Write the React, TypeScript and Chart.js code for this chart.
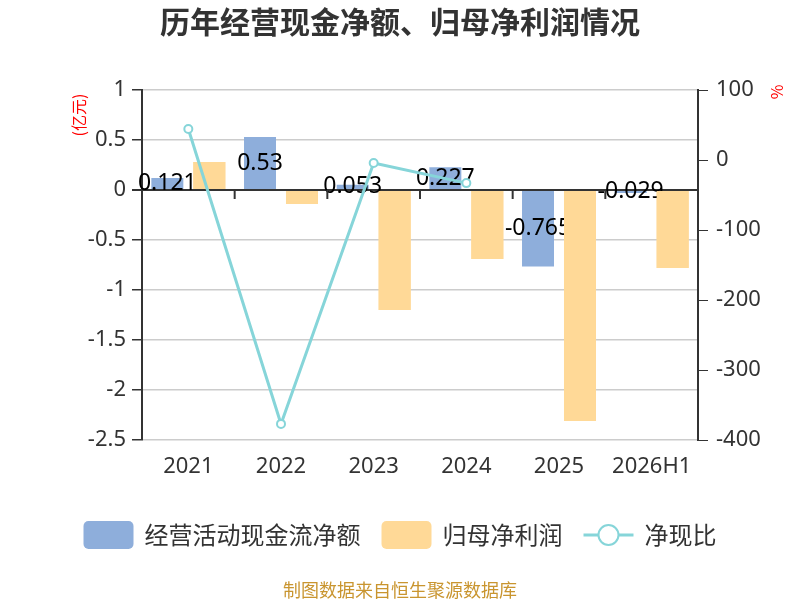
import React, { useEffect, useRef } from "react";
import { Chart, registerables } from "chart.js";

Chart.register(...registerables);

const categories = ["2021", "2022", "2023", "2024", "2025", "2026H1"];
const cashFlow = [0.121, 0.53, 0.053, 0.227, -0.765, -0.029];
const netProfit = [0.28, -0.14, -1.2, -0.69, -2.31, -0.78];
const cashRatio = [44.3, -377, -4.3, -33, null, null];
const leftTicks = { min: -2.5, max: 1, step: 0.5 };
const rightTicks = { min: -400, max: 100, step: 100 };

const CJK = '"Noto Sans CJK SC", sans-serif';
const NUM = '"Noto Sans", "Noto Sans CJK SC", sans-serif';
const BLUE = "#8eaedb";
const ORANGE = "#ffd997";
const TEAL = "#86d5d9";
const TEXT = "#333333";

const legendItems = [
  { label: "经营活动现金流净额", kind: "box", color: BLUE },
  { label: "归母净利润", kind: "box", color: ORANGE },
  { label: "净现比", kind: "line", color: TEAL },
];

const decorPlugin = {
  id: "decor",
  afterDatasetDraw(chart: any, args: any) {
    if (args.index !== 0) return;
    const ctx = chart.ctx;
    const meta = chart.getDatasetMeta(0);
    ctx.save();
    ctx.font = `23px ${NUM}`;
    ctx.fillStyle = "#000";
    ctx.textAlign = "center";
    ctx.textBaseline = "middle";
    meta.data.forEach((el: any, i: number) => {
      const y = (el.y + el.base) / 2;
      ctx.fillText(String(cashFlow[i]), el.x, y);
    });
    ctx.restore();
    // orange bars are drawn over the labels
    const meta1 = chart.getDatasetMeta(1);
    meta1.data.forEach((el: any) => el.draw(ctx));
  },
  afterDraw(chart: any) {
    const ctx = chart.ctx;
    const xs = chart.scales.x;
    const ys = chart.scales.y;
    ctx.save();
    const y0 = ys.getPixelForValue(0);
    ctx.strokeStyle = TEXT;
    ctx.lineWidth = 2;
    for (let i = 1; i < categories.length; i++) {
      const x = (xs.getPixelForValue(i - 1) + xs.getPixelForValue(i)) / 2;
      ctx.beginPath();
      ctx.moveTo(x, y0);
      ctx.lineTo(x, y0 + 9);
      ctx.stroke();
    }
    // title
    ctx.fillStyle = TEXT;
    ctx.font = `bold 30px ${CJK}`;
    ctx.textAlign = "center";
    ctx.textBaseline = "middle";
    ctx.fillText("历年经营现金净额、归母净利润情况", 400, 22);
    // axis titles
    ctx.fillStyle = "#ff0000";
    ctx.font = `16px ${CJK}`;
    ctx.save();
    ctx.translate(79, 115);
    ctx.rotate(-Math.PI / 2);
    ctx.fillText("(亿元)", 0, 0);
    ctx.restore();
    ctx.save();
    ctx.translate(777, 92);
    ctx.rotate(-Math.PI / 2);
    ctx.fillText("%", 0, 0);
    ctx.restore();
    // footer
    ctx.fillStyle = "#c9952f";
    ctx.font = `18px ${CJK}`;
    ctx.fillText("制图数据来自恒生聚源数据库", 400, 590);
    // legend
    ctx.font = `24px ${CJK}`;
    const boxW = 50;
    const gapText = 11;
    const gapItem = 21;
    const widths = legendItems.map((it) => boxW + gapText + ctx.measureText(it.label).width);
    const total = widths.reduce((a, b) => a + b, 0) + gapItem * (legendItems.length - 1);
    let x = 400 - total / 2;
    const ly = 535;
    legendItems.forEach((it, i) => {
      if (it.kind === "box") {
        ctx.fillStyle = it.color;
        ctx.beginPath();
        (ctx as any).roundRect(x, ly - 14, boxW, 28, 5);
        ctx.fill();
      } else {
        ctx.strokeStyle = it.color;
        ctx.lineWidth = 3;
        ctx.beginPath();
        ctx.moveTo(x, ly);
        ctx.lineTo(x + boxW, ly);
        ctx.stroke();
        ctx.fillStyle = "#fff";
        ctx.lineWidth = 2;
        ctx.beginPath();
        ctx.arc(x + boxW / 2, ly, 10, 0, Math.PI * 2);
        ctx.fill();
        ctx.stroke();
      }
      ctx.fillStyle = TEXT;
      ctx.textAlign = "left";
      ctx.fillText(it.label, x + boxW + gapText, ly);
      x += widths[i] + gapItem;
    });
    ctx.restore();
  },
};

const fmt = (v: any) => String(Number(v));

export default function App() {
  const ref = useRef<HTMLCanvasElement>(null);
  useEffect(() => {
    if (!ref.current) return;
    const chart = new Chart(ref.current, {
      type: "bar",
      data: {
        labels: categories,
        datasets: [
          {
            type: "bar",
            label: "经营活动现金流净额",
            data: cashFlow,
            backgroundColor: BLUE,
            yAxisID: "y",
            order: 1,
            categoryPercentage: 0.906,
            barPercentage: 0.762,
          },
          {
            type: "bar",
            label: "归母净利润",
            data: netProfit,
            backgroundColor: ORANGE,
            yAxisID: "y",
            order: 2,
            categoryPercentage: 0.906,
            barPercentage: 0.762,
          },
          {
            type: "line",
            label: "净现比",
            data: cashRatio as any,
            borderColor: TEAL,
            borderWidth: 3,
            pointRadius: 4,
            pointBorderWidth: 2,
            pointBackgroundColor: "#fff",
            pointBorderColor: TEAL,
            yAxisID: "y1",
            order: 0,
            spanGaps: false,
          },
        ],
      },
      options: {
        responsive: true,
        maintainAspectRatio: false,
        animation: false,
        layout: { padding: { left: 0, right: 0, top: 90, bottom: 110 } },
        plugins: {
          legend: { display: false },
          title: { display: false },
          tooltip: { enabled: false },
        },
        scales: {
          x: {
            grid: { display: false },
            border: { display: false },
            ticks: { color: TEXT, font: { size: 22, family: NUM }, padding: 6 },
            afterFit: (s: any) => {
              s.height = 50;
            },
          },
          y: {
            position: "left",
            min: leftTicks.min,
            max: leftTicks.max,
            ticks: { stepSize: leftTicks.step, color: TEXT, font: { size: 22, family: NUM }, padding: 6, callback: fmt },
            grid: {
              color: (c: any) => (c.tick && c.tick.value === 0 ? TEXT : "#cccccc"),
              lineWidth: (c: any) => (c.tick && c.tick.value === 0 ? 2 : 1.5),
              tickColor: TEXT,
              tickLength: 10,
            },
            border: { color: TEXT, width: 2 },
            afterFit: (s: any) => {
              s.width = 142;
            },
          },
          y1: {
            position: "right",
            min: rightTicks.min,
            max: rightTicks.max,
            ticks: { stepSize: rightTicks.step, color: TEXT, font: { size: 22, family: NUM }, padding: 8, callback: fmt },
            grid: { drawOnChartArea: false, tickColor: TEXT, tickLength: 10 },
            border: { color: TEXT, width: 2 },
            afterFit: (s: any) => {
              s.width = 102;
            },
          },
        },
      },
      plugins: [decorPlugin],
    });
    return () => chart.destroy();
  }, []);
  return (
    <div style={{ position: "absolute", left: 0, top: 0, width: 800, height: 600, background: "#fff" }}>
      <canvas ref={ref} />
    </div>
  );
}
